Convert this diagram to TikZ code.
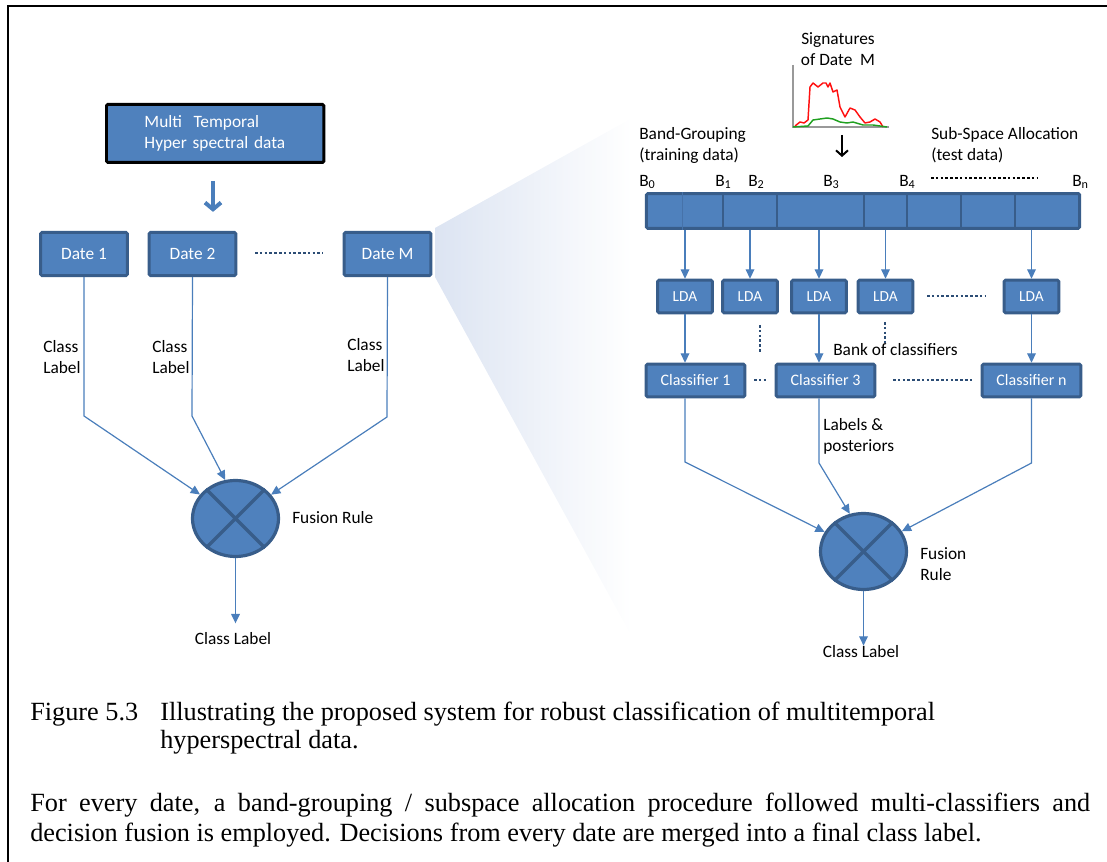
\documentclass[tikz,border=0pt]{standalone}
\usepackage{fontspec}
\setmainfont{Carlito}
\newfontfamily\capfont{Liberation Serif}
\usetikzlibrary{arrows.meta,shapes.geometric}

\definecolor{boxfill}{HTML}{4F81BD}
\definecolor{boxline}{HTML}{385D8A}
\definecolor{linkblue}{HTML}{4A7EBB}
\definecolor{dotblue}{HTML}{2C4D75}
\definecolor{fanleft}{HTML}{DCE4F2}
\definecolor{fanmid}{HTML}{C7D5ED}
\definecolor{sigred}{HTML}{FF1010}
\definecolor{siggreen}{HTML}{20A020}

\tikzset{
  txt/.style={font=\fontsize{13}{15.75}\selectfont, inner sep=0pt, align=left},
  box/.style={draw=boxline, line width=2.2pt, fill=boxfill, text=white, rounded corners=1pt,
    inner sep=0pt, font=\fontsize{13}{15.75}\selectfont},
  datebox/.style={box, minimum width=65pt, minimum height=32.5pt},
  ldabox/.style={box, minimum width=41pt, minimum height=24.5pt, font=\fontsize{11.5}{14}\selectfont},
  clsbox/.style={box, minimum width=74pt, minimum height=24.5pt, font=\fontsize{12}{14}\selectfont},
  fusion/.style={ellipse, draw=boxline, line width=2.4pt, fill=boxfill, minimum width=64.5pt,
    minimum height=57pt, inner sep=0pt},
  link/.style={draw=linkblue, line width=0.9pt, -{Triangle[length=7pt,width=6.5pt]}},
  dots/.style={draw=dotblue, line width=2pt, dash pattern=on 2pt off 1.6pt},
  captxt/.style={font=\capfont\fontsize{19.7}{22.5}\selectfont, inner sep=0pt}
}

\begin{document}
\begin{tikzpicture}[x=0.75pt, y=-0.75pt]
\useasboundingbox (0,0) rectangle (1107,862);

% frame
\draw[line width=2.2pt, line cap=rect] (8,862) -- (8,6) -- (1107,6);

% zoom fan behind the right part
\shade[left color=fanleft, middle color=fanmid, right color=white]
  (435,228) -- (632,118) -- (632,637) -- (435,277) -- cycle;

% left part
\node[box, anchor=north west, minimum width=163pt, minimum height=43.5pt, draw=black,
  text width=106pt, inner xsep=28.5pt, align=left] (mtd) at (105,103)
  {Multi\ \ Temporal\\Hyper spectral data};
\node[datebox] (d1) at (84,254) {Date 1};
\node[datebox] (d2) at (192.5,254) {Date 2};
\node[datebox] (dm) at (387.5,254) {Date M};
\draw[linkblue, line width=3pt, -{Straight Barb[length=5pt,width=12pt]},
  shorten <=12.75pt, shorten >=14.25pt] (mtd.south -| 213,0) -- (213,0 |- d2.north);
\draw[dots] (255,253) -- (323,253);

\node[fusion] (f1) at (235.5,518.5) {};
\draw[boxline, line width=2.4pt] (f1.135) -- (f1.-45) (f1.45) -- (f1.-135);

\coordinate (k1) at (84,416);
\coordinate (k2) at (192,416);
\coordinate (km) at (387,417);
\draw[link] (d1.south) -- (k1) -- (f1);
\draw[link] (d2.south) -- (k2) -- (f1.105);
\draw[link] (dm.south) -- (km) -- (f1);

\node[txt, anchor=west] (lab1) at (43,357.5) {Class\\Label};
\node[txt, anchor=west] (lab2) at (152,357.5) {Class\\Label};
\node[txt, anchor=west] (labm) at (347,355) {Class\\Label};
\node[txt, anchor=west] (rule1) at (292,518) {Fusion Rule};
\node[txt] (cl1) at (233,639) {Class Label};
\draw[link, shorten >=7pt] (f1.south) -- (f1.south |- cl1.north);

% right part
\node[txt, align=center] (sig) at (838,49) {Signatures\\of Date\ \ M};
\draw[gray!80, line width=0.8pt] (793,65) -- (793,127) -- (889,127);
\draw[sigred, line width=1.1pt, line join=round]
  (795,126) -- (800,122) -- (804,123) -- (808,120) -- (810,87) -- (813,83) -- (818,87)
  -- (823,83) -- (826,83) -- (828,87) -- (830,83) -- (833,92) -- (837,90) -- (840,107)
  -- (845,117) -- (850,108) -- (855,110) -- (860,117) -- (865,123) -- (870,122)
  -- (875,119) -- (880,122) -- (883,127);
\draw[siggreen, line width=1.1pt, line join=round]
  (793,127) -- (808,126) -- (813,120) -- (827,118) -- (833,119) -- (840,122) -- (847,123)
  -- (853,122) -- (863,125) -- (873,125) -- (887,127);
\coordinate (sigtop) at (842,135);
\coordinate (sigend) at (842,157);
\draw[black, line width=1.5pt, -{Straight Barb[length=4pt,width=9pt]}] (sigtop) -- (sigend);

\node[txt, anchor=west] (bg) at (639,145.5) {Band-Grouping\\(training data)};
\node[txt, anchor=west] (ssa) at (931,145.5) {Sub-Space Allocation\\(test data)};
\node[txt, anchor=west] (b0) at (639,182) {B\textsubscript{0}};
\node[txt, anchor=west] (b1) at (715,182) {B\textsubscript{1}};
\node[txt, anchor=west] (b2) at (748,182) {B\textsubscript{2}};
\node[txt, anchor=west] (b3) at (823,182) {B\textsubscript{3}};
\node[txt, anchor=west] (b4) at (899,182) {B\textsubscript{4}};
\node[txt, anchor=west] (bn) at (1072,182) {B\textsubscript{n}};
\draw[black, line width=2pt, dash pattern=on 2pt off 1.6pt] (931,178) -- (1037,178);

\node[box, minimum width=325pt, minimum height=26pt] (bar) at (863,211) {};
\foreach \x in {723,777,864,907,961,1015}
  \draw[boxline, line width=2.2pt] (\x,0 |- bar.north) -- (\x,0 |- bar.south);
\draw[boxline!40!boxfill, line width=0.6pt] (682,0 |- bar.north) -- (682,0 |- bar.south);

\node[ldabox] (lda1) at (685,296.5) {LDA};
\node[ldabox] (lda2) at (750,296.5) {LDA};
\node[ldabox] (lda3) at (819,296.5) {LDA};
\node[ldabox] (lda4) at (885.5,296.5) {LDA};
\node[ldabox] (ldan) at (1031.5,296.5) {LDA};
\foreach \n in {lda1,lda2,lda3,lda4,ldan}
  \draw[link] (\n |- bar.south) -- (\n);
\draw[dots] (927,296) -- (985,296);
\draw[dots] (760,325) -- (760,352);
\draw[dots] (885,322) -- (885,343);
\node[txt, anchor=west] (bank) at (833,350) {Bank of classifiers};

\node[clsbox] (cls1) at (695.5,380.5) {Classifier 1};
\node[clsbox] (cls3) at (825.5,380.5) {Classifier 3};
\node[clsbox] (clsn) at (1031.5,380.5) {Classifier n};
\draw[link] (lda1) -- (lda1 |- cls1.north);
\draw[link] (lda3) -- (lda3 |- cls3.north);
\draw[link] (ldan) -- (ldan |- clsn.north);
\draw[dots] (754,380) -- (768,380);
\draw[dots] (893,380) -- (973,380);

\node[fusion] (f2) at (863.5,551.5) {};
\draw[boxline, line width=2.4pt] (f2.135) -- (f2.-45) (f2.45) -- (f2.-135);
\draw[link] (lda1 |- cls1.south) -- (lda1 |- 0,462) -- (f2);
\draw[link] (lda3 |- cls3.south) -- (lda3 |- 0,463) -- (f2.110);
\draw[link] (ldan |- clsn.south) -- (ldan |- 0,463) -- (f2);

\node[txt, anchor=west] (post) at (823,436) {Labels \&\\posteriors};
\node[txt, anchor=west] (rule2) at (920,564) {Fusion\\Rule};
\node[txt] (cl2) at (861,652) {Class Label};
\draw[link] (f2.south) -- (f2.south |- cl2.north);

% caption
\node[captxt, anchor=base west] (fig) at (30,720) {Figure 5.3};
\node[captxt, anchor=base west] (cap1) at (160,720)
  {Illustrating the proposed system for robust classification of multitemporal};
\node[captxt, anchor=base west] (cap2) at (160,748) {hyperspectral data.};
\node[captxt, anchor=base west, text width=795pt, align=justify] (para) at (30,811)
  {For every date, a band-grouping / subspace allocation procedure followed multi-classifiers and
   \mbox{decision} fusion is employed. Decisions from every date are merged into a final class label.};
\end{tikzpicture}
\end{document}
